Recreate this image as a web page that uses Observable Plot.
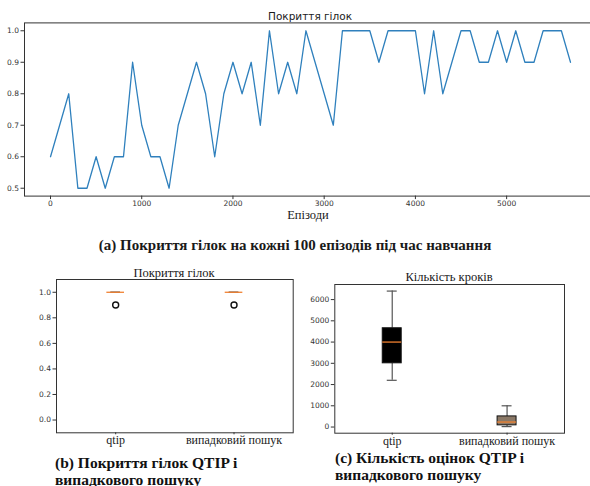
<!DOCTYPE html>
<html><head><meta charset="utf-8">
<script src="https://cdn.jsdelivr.net/npm/d3@7"></script>
<script src="https://cdn.jsdelivr.net/npm/@observablehq/plot@0.6"></script>
<style>
html,body{margin:0;padding:0;background:#fff;}
#root{position:relative;width:590px;height:486px;overflow:hidden;background:#fff;}
.panel{position:absolute;}
.t{position:absolute;transform:translate(-50%,-50%);white-space:nowrap;color:#1a1a1a;}
.serif{font-family:"Liberation Serif","Times New Roman","DejaVu Serif",serif;}
.sans{font-family:"DejaVu Sans",sans-serif;}
.cap{position:absolute;white-space:nowrap;font-family:"Liberation Serif","Times New Roman","DejaVu Serif",serif;font-weight:bold;color:#111;transform:translateY(-50%);}
</style></head><body><div id="root"></div>
<script>
// ---- data: top chart (coverage every 100 episodes) ----
const episodes = [0,100,200,300,400,500,600,700,800,900,1000,1100,1200,1300,1400,1500,1600,1700,1800,1900,
  2000,2100,2200,2300,2400,2500,2600,2700,2800,2900,3000,3100,3200,3300,3400,3500,3600,3700,3800,3900,
  4000,4100,4200,4300,4400,4500,4600,4700,4800,4900,5000,5100,5200,5300,5400,5500,5600,5700];
const coverage = [0.6,0.7,0.8,0.5,0.5,0.6,0.5,0.6,0.6,0.9,0.7,0.6,0.6,0.5,0.7,0.8,0.9,0.8,0.6,0.8,
  0.9,0.8,0.9,0.7,1.0,0.8,0.9,0.8,1.0,0.9,0.8,0.7,1.0,1.0,1.0,1.0,0.9,1.0,1.0,1.0,
  1.0,0.8,1.0,0.8,0.9,1.0,1.0,0.9,0.9,1.0,0.9,1.0,0.9,0.9,1.0,1.0,1.0,0.9];
const episodeTicks = [0,1000,2000,3000,4000,5000];
const coverageTicks = [0.5,0.6,0.7,0.8,0.9,1.0];

// ---- data: box plots ----
const methods = ["qtip","випадковий пошук"];
// (b) branch coverage
const covLow = [1.0,1.0], covQ1 = [1.0,1.0], covMedian = [1.0,1.0], covQ3 = [1.0,1.0], covHigh = [1.0,1.0];
const covOutliers = [0.9,0.9];
const covTicks = [0.0,0.2,0.4,0.6,0.8,1.0];
// (c) number of steps
const stepsLow = [2200,20], stepsQ1 = [3000,80], stepsMedian = [4000,235], stepsQ3 = [4650,500], stepsHigh = [6400,1000];
const stepsTicks = [0,1000,2000,3000,4000,5000,6000];
const boxFills = ["#000000","#8a7866"];

// ---- texts ----
const topTitle = "Покриття гілок";
const topXLabel = "Епізоди";
const capA = "(а) Покриття гілок на кожні 100 епізодів під час навчання";
const titleB = "Покриття гілок";
const titleC = "Кількість кроків";
const capB = ["(b) Покриття гілок QTIP і","випадкового пошуку"];
const capC = ["(c) Кількість оцінок QTIP і","випадкового пошуку"];

const root = document.getElementById("root");
function addText(txt, cls, x, y, size, extra){
  const d = document.createElement("div");
  d.className = cls; d.textContent = txt;
  d.style.left = x+"px"; d.style.top = y+"px"; d.style.fontSize = size+"px";
  if (extra) Object.assign(d.style, extra);
  root.appendChild(d);
}
function place(svg, left, top){
  const w = document.createElement("div");
  w.className = "panel"; w.style.left = left+"px"; w.style.top = top+"px";
  w.appendChild(svg); root.appendChild(w);
}

// ---- top line chart ----
const lineData = episodes.map((e,i)=>({episode:e, coverage:coverage[i]}));
const topPlot = Plot.plot({
  width:590, height:208, marginLeft:24, marginRight:-6, marginTop:22.4, marginBottom:12.4,
  style:{fontFamily:"DejaVu Sans", fontSize:"7.5px", color:"#333", background:"transparent", overflow:"hidden"},
  x:{domain:[-285,5985]}, y:{domain:[0.475,1.025]},
  marks:[
    Plot.line(lineData,{x:"episode", y:"coverage", stroke:"#2f80bd", strokeWidth:1.3}),
    Plot.frame({stroke:"#333", strokeWidth:1}),
    Plot.axisX({ticks:episodeTicks, tickFormat:d=>String(d), tickSize:3.5, tickPadding:1.5, label:null}),
    Plot.axisY({ticks:coverageTicks, tickFormat:d=>d.toFixed(1), tickSize:3.5, tickPadding:2, label:null})
  ]
});
place(topPlot, 0, 0);
addText(topTitle, "t sans", 310, 15.5, 10.5);
addText(topXLabel, "t serif", 308, 215, 12.5);
addText(capA, "t serif", 295, 245, 15, {fontWeight:"bold"});

// ---- box chart helper ----
function boxChart({low,q1,median,q3,high,outliers,yDomain,yTicks,yFormat,width,height,mL,mR,mT,mB,pInner,capInset}){
  const rows = methods.map((m,i)=>({method:m, low:low[i], q1:q1[i], median:median[i], q3:q3[i], high:high[i], fill:boxFills[i]}));
  const outl = (outliers||[]).map((v,i)=>({method:methods[i], value:v}));
  return Plot.plot({
    width, height, marginLeft:mL, marginRight:mR, marginTop:mT, marginBottom:mB,
    style:{fontFamily:"DejaVu Sans", fontSize:"7.5px", color:"#333", background:"transparent"},
    x:{type:"band", domain:methods, paddingInner:pInner, paddingOuter:pInner/2, round:false},
    y:{domain:yDomain},
    color:{type:"identity"},
    marks:[
      Plot.ruleX(rows,{x:"method", y1:"low", y2:"q1", stroke:"#555", strokeWidth:1.2}),
      Plot.ruleX(rows,{x:"method", y1:"q3", y2:"high", stroke:"#555", strokeWidth:1.2}),
      Plot.tickY(rows,{x:"method", y:"low", insetLeft:capInset, insetRight:capInset, stroke:"#555", strokeWidth:1.2}),
      Plot.tickY(rows,{x:"method", y:"high", insetLeft:capInset, insetRight:capInset, stroke:"#555", strokeWidth:1.2}),
      Plot.barY(rows,{x:"method", y1:"q1", y2:"q3", fill:"fill", stroke:"#111", strokeWidth:1}),
      Plot.tickY(rows,{x:"method", y:"median", stroke:"#f08030", strokeWidth:1.3}),
      Plot.dot(outl,{x:"method", y:"value", r:3, stroke:"#111", fill:"none", strokeWidth:1.4}),
      Plot.frame({stroke:"#333", strokeWidth:1}),
      Plot.axisX({tickSize:2, tickPadding:1, label:null, fontFamily:"Liberation Serif, Times New Roman, DejaVu Serif, serif", fontSize:12, fill:"#1a1a1a"}),
      Plot.axisY({ticks:yTicks, tickFormat:yFormat, tickSize:3.5, tickPadding:2, label:null})
    ]
  });
}

// (b)
const plotB = boxChart({low:covLow,q1:covQ1,median:covMedian,q3:covQ3,high:covHigh,outliers:covOutliers,
  yDomain:[-0.1,1.1], yTicks:covTicks, yFormat:d=>d.toFixed(1),
  width:300, height:195, mL:56, mR:7.3, mT:19, mB:22.7, pInner:0.851, capInset:4});
place(plotB, 0, 260);
addText(titleB, "t serif", 174, 273, 12.5);
capB.forEach((s,i)=>addText(s, "cap", 55, 463+i*16.5, 15.5));

// (c)
const plotC = boxChart({low:stepsLow,q1:stepsQ1,median:stepsMedian,q3:stepsQ3,high:stepsHigh,outliers:[],
  yDomain:[-290,6710], yTicks:stepsTicks, yFormat:d=>String(d),
  width:300, height:195, mL:44.3, mR:26, mT:24, mB:22.3, pInner:0.835, capInset:4.5});
place(plotC, 290, 260);
addText(titleC, "t serif", 449, 277, 12.5);
capC.forEach((s,i)=>addText(s, "cap", 335, 458+i*16.5, 15.5));
</script></body></html>
